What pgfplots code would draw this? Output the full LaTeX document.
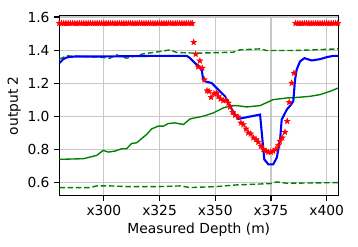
\documentclass[border=0pt]{standalone}
\usepackage{fontspec}
\setmainfont{DejaVu Sans}
\usepackage{pgfplots}
\pgfplotsset{compat=1.18}
\definecolor{mplgreen}{RGB}{0,128,0}
\definecolor{gridgray}{RGB}{200,200,200}
\pgfdeclareplotmark{fstar}{%
  \pgfpathmoveto{\pgfqpointpolar{90}{\pgfplotmarksize}}%
  \pgfpathlineto{\pgfqpointpolar{126}{0.42\pgfplotmarksize}}%
  \pgfpathlineto{\pgfqpointpolar{162}{\pgfplotmarksize}}%
  \pgfpathlineto{\pgfqpointpolar{198}{0.42\pgfplotmarksize}}%
  \pgfpathlineto{\pgfqpointpolar{234}{\pgfplotmarksize}}%
  \pgfpathlineto{\pgfqpointpolar{270}{0.42\pgfplotmarksize}}%
  \pgfpathlineto{\pgfqpointpolar{306}{\pgfplotmarksize}}%
  \pgfpathlineto{\pgfqpointpolar{342}{0.42\pgfplotmarksize}}%
  \pgfpathlineto{\pgfqpointpolar{18}{\pgfplotmarksize}}%
  \pgfpathlineto{\pgfqpointpolar{54}{0.42\pgfplotmarksize}}%
  \pgfpathclose
  \pgfusepathqfillstroke
}
\begin{document}
\begin{tikzpicture}
\begin{axis}[
  scale only axis,
  width=201bp, height=129.8bp,
  xmin=280, xmax=405.2, ymin=0.522, ymax=1.608,
  xtick={300,325,350,375,400},
  xticklabels={x300,x325,x350,x375,x400},
  ytick={0.6,0.8,1.0,1.2,1.4,1.6},
  yticklabel style={/pgf/number format/.cd,fixed,fixed zerofill,precision=1},
  /pgf/number format/assume math mode=true,
  tick label style={font=\fontsize{10}{12}\selectfont},
  label style={font=\fontsize{10}{12}\selectfont},
  xlabel={Measured Depth (m)},
  ylabel={output 2},
  grid=major,
  major grid style={gridgray, line width=0.8pt},
  axis line style={black, line width=0.8pt},
  tick pos=left,
  tick align=outside,
  major tick length=3.5pt,
  tick style={black, line width=0.8pt},
  xlabel style={yshift=2pt},
  ylabel style={yshift=-2pt},
  clip=true,
]
% green dashed lower
\addplot[mplgreen, line width=1pt, dash pattern=on 4pt off 2pt] coordinates {
(280,0.572)(293.8,0.572)(296.8,0.582)(302.8,0.582)(310.2,0.578)(325.2,0.578)
(334.2,0.582)(338.7,0.572)(350.6,0.578)(359.6,0.588)(374.6,0.596)(377.6,0.606)
(382.1,0.598)(405.2,0.602)};
% green dashed upper
\addplot[mplgreen, line width=1pt, dash pattern=on 4pt off 2pt] coordinates {
(280,1.346)(283.3,1.366)(298.3,1.358)(302.8,1.352)(305.8,1.372)(310.2,1.352)
(313.2,1.362)(317.7,1.378)(325.2,1.392)(329.7,1.402)(332.7,1.386)(341.7,1.382)
(358.1,1.388)(361.1,1.402)(370.1,1.408)(373.1,1.398)(385.0,1.398)(394.0,1.402)
(405.2,1.408)};
% green solid
\addplot[mplgreen, line width=1pt] coordinates {
(280,0.742)(290.8,0.746)(296.8,0.766)(299.7,0.796)(302.0,0.786)(305.0,0.792)
(308.0,0.806)(310.2,0.806)(312.5,0.838)(314.7,0.842)(319.2,0.892)(321.5,0.926)
(324.4,0.942)(326.7,0.942)(328.9,0.958)(331.9,0.962)(335.7,0.952)(338.7,0.986)
(344.6,1.002)(349.1,1.022)(353.6,1.052)(357.4,1.066)(359.6,1.066)(364.1,1.058)
(370.1,1.066)(376.0,1.102)(382.1,1.112)(387.3,1.116)(392.5,1.122)(397.0,1.132)
(401.5,1.152)(405.2,1.172)};
% blue solid
\addplot[blue, line width=1.5pt] coordinates {
(280.0,1.322)(280.8,1.332)(281.8,1.346)(283.0,1.354)(284.0,1.358)(287.0,1.362)
(298.3,1.362)(311.7,1.364)(325.2,1.366)(337.2,1.366)(338.7,1.352)(340.9,1.322)
(342.8,1.302)(343.9,1.282)(344.6,1.222)(345.4,1.212)(348.4,1.202)(350.6,1.172)
(354.4,1.122)(356.6,1.062)(358.9,1.012)(360.3,0.986)(370.1,1.012)(372.0,0.742)
(373.8,0.712)(376.0,0.712)(377.6,0.752)(379.1,0.862)(379.8,0.982)(382.1,1.042)
(384.0,1.072)(385.0,1.092)(385.8,1.222)(386.5,1.282)(388.0,1.332)(390.0,1.352)
(393.3,1.338)(397.0,1.346)(400.0,1.358)(403.0,1.366)(405.0,1.366)};
% red stars
\addplot[only marks, red, mark=fstar, mark size=2.3pt, line width=0.2pt] coordinates {
(280,1.562)(281,1.562)(282,1.562)(283,1.562)(284,1.562)(285,1.562)(286,1.562)
(287,1.562)(288,1.562)(289,1.562)(290,1.562)(291,1.562)(292,1.562)(293,1.562)
(294,1.562)(295,1.562)(296,1.562)(297,1.562)(298,1.562)(299,1.562)(300,1.562)
(301,1.562)(302,1.562)(303,1.562)(304,1.562)(305,1.562)(306,1.562)(307,1.562)
(308,1.562)(309,1.562)(310,1.562)(311,1.562)(312,1.562)(313,1.562)(314,1.562)
(315,1.562)(316,1.562)(317,1.562)(318,1.562)(319,1.562)(320,1.562)(321,1.562)
(322,1.562)(323,1.562)(324,1.562)(325,1.562)(326,1.562)(327,1.562)(328,1.562)
(329,1.562)(330,1.562)(331,1.562)(332,1.562)(333,1.562)(334,1.562)(335,1.562)
(336,1.562)(337,1.562)(338,1.562)(339,1.562)(339.7,1.562)
(340.3,1.448)(341.2,1.376)(343.1,1.336)(342.3,1.300)(344.2,1.292)(345.1,1.222)
(346.3,1.156)(347.2,1.152)(348.1,1.116)(349.4,1.138)(350.6,1.142)(351.4,1.122)
(352.4,1.106)(353.6,1.096)(354.8,1.098)(355.9,1.082)(356.6,1.058)(357.8,1.026)
(358.9,1.008)(360.2,0.998)(361.5,0.962)(362.6,0.952)(363.8,0.926)(364.8,0.902)
(365.9,0.896)(367.1,0.872)(368.3,0.862)(369.3,0.846)(370.5,0.822)(371.6,0.802)
(372.8,0.792)(373.8,0.786)(374.9,0.786)(376.0,0.792)(377.1,0.802)(378.3,0.826)
(379.0,0.852)(380.1,0.872)(381.3,0.906)(382.3,0.972)(383.2,1.086)(384.3,1.202)
(385.3,1.262)
(386,1.562)(387,1.562)(388,1.562)(389,1.562)(390,1.562)(391,1.562)(392,1.562)
(393,1.562)(394,1.562)(395,1.562)(396,1.562)(397,1.562)(398,1.562)(399,1.562)
(400,1.562)(401,1.562)(402,1.562)(403,1.562)(404,1.562)(405,1.562)};
\end{axis}
\path (current axis.south west) ++(-42.7bp,-36.7bp);
\path (current axis.north east) ++(14.2bp,11.3bp);
\end{tikzpicture}
\end{document}
